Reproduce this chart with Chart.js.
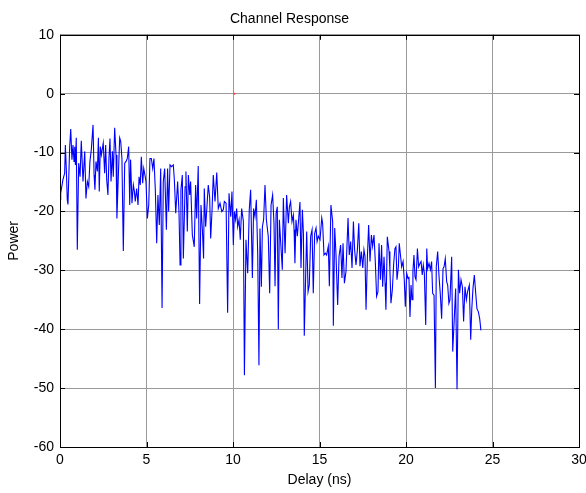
<!DOCTYPE html>
<html>
<head>
<meta charset="utf-8">
<script src="https://cdn.jsdelivr.net/npm/chart.js@4/dist/chart.umd.min.js"></script>
<style>
    html, body { margin: 0; padding: 0; background: #fff; }
    #chart { display: block; }
</style>
</head>
<body>
<canvas id="chart" width="586" height="493"></canvas>
<script>
// delay (ns) and channel power (dB)
const delays = [
    0, 0.04, 0.17, 0.27, 0.31, 0.37, 0.42, 0.46, 0.56, 0.62, 0.69, 0.75, 0.81, 0.85, 0.89, 0.94,
    1.00, 1.08, 1.16, 1.23, 1.33, 1.43, 1.50, 1.58, 1.66, 1.73, 1.81, 1.91, 1.97,
    2.02, 2.08, 2.16, 2.22, 2.27, 2.33, 2.39, 2.45, 2.50, 2.58, 2.64, 2.70, 2.77, 2.83, 2.89, 2.95,
    3.03, 3.08, 3.16, 3.24, 3.29, 3.37, 3.45, 3.51, 3.58, 3.66, 3.74, 3.82, 3.89, 3.97,
    4.03, 4.08, 4.16, 4.24, 4.30, 4.35, 4.43, 4.51, 4.57, 4.64, 4.70, 4.78, 4.84, 4.89, 4.97,
    5.05, 5.13, 5.20, 5.28, 5.36, 5.43, 5.51, 5.59, 5.66, 5.74, 5.82, 5.90, 5.97,
    6.05, 6.15, 6.22, 6.28, 6.36, 6.45, 6.55, 6.61, 6.69, 6.80, 6.88, 6.94, 6.99,
    7.07, 7.13, 7.23, 7.28, 7.36, 7.42, 7.50, 7.55, 7.65, 7.76, 7.84, 7.90, 7.99,
    8.07, 8.15, 8.23, 8.30, 8.34, 8.42, 8.50, 8.57, 8.65, 8.71, 8.79, 8.86, 8.96,
    9.06, 9.15, 9.25, 9.35, 9.44, 9.50, 9.60, 9.69, 9.77, 9.87, 9.94,
    10.02, 10.08, 10.15, 10.21, 10.27, 10.35, 10.42, 10.50, 10.60, 10.66, 10.75, 10.85, 10.94,
    11.02, 11.12, 11.19, 11.27, 11.35, 11.43, 11.50, 11.56, 11.64, 11.70, 11.77, 11.85, 11.93,
    12.04, 12.12, 12.20, 12.29, 12.37, 12.43, 12.49, 12.56, 12.62, 12.68, 12.77, 12.85, 12.91,
    13.01, 13.10, 13.20, 13.26, 13.33, 13.41, 13.49, 13.53, 13.58, 13.64, 13.72, 13.80, 13.87, 13.93,
    14.01, 14.07, 14.12, 14.20, 14.26, 14.34, 14.41, 14.49, 14.57, 14.64, 14.72, 14.80, 14.86, 14.93,
    15.03, 15.13, 15.18, 15.26, 15.34, 15.41, 15.51, 15.57, 15.66, 15.76, 15.80, 15.88, 15.95,
    16.05, 16.13, 16.22, 16.30, 16.36, 16.44, 16.53, 16.65, 16.72, 16.80, 16.88, 16.96,
    17.03, 17.11, 17.19, 17.27, 17.34, 17.42, 17.50, 17.57, 17.63, 17.69, 17.77, 17.84, 17.92,
    18.00, 18.07, 18.15, 18.23, 18.30, 18.38, 18.44, 18.52, 18.59, 18.65, 18.73, 18.79, 18.84, 18.92,
    19.02, 19.07, 19.13, 19.21, 19.29, 19.36, 19.42, 19.48, 19.56, 19.61, 19.69, 19.75, 19.83, 19.90, 19.96,
    20.04, 20.12, 20.17, 20.23, 20.29, 20.35, 20.40, 20.46, 20.52, 20.58, 20.66, 20.73, 20.81, 20.87, 20.94,
    21.00, 21.06, 21.14, 21.20, 21.25, 21.33, 21.41, 21.48, 21.54, 21.62, 21.70, 21.75, 21.83, 21.91, 21.98,
    22.06, 22.14, 22.20, 22.27, 22.35, 22.41, 22.48, 22.54, 22.64, 22.70, 22.79, 22.87, 22.95,
    23.03, 23.10, 23.18, 23.26, 23.33, 23.41, 23.49, 23.56, 23.66, 23.74, 23.80, 23.87, 23.95,
    24.03, 24.10, 24.18, 24.26, 24.33
];
const power = [
    -18, -16.9, -14.6, -13.5, -8.7, -13.2, -18, -18.8, -9, -6, -11.2, -8.7, -11.5, -9, -12.1, -7.5,
    -26.5, -11.8, -14.1, -8, -14.9, -9.8, -17.8, -14.9, -15.8, -11.5, -9.5, -5.3, -13.8,
    -16.3, -11.5, -13.2, -7.5, -16.6, -9, -10.4, -9.3, -8.4, -13.5, -8.7, -14.6, -17.2, -11, -7.6, -14.9,
    -9.8, -14.1, -5.8, -10.4, -21.2, -14.1, -7.5, -8.1, -11, -26.7, -11.8, -11.5, -11, -9,
    -18.9, -11.2, -18.6, -15.5, -16.6, -18.3, -16.1, -18.9, -14.1, -15.5, -10.7, -15.2, -12.7, -13.5, -14.9,
    -21.2, -18.9, -11, -11, -12.7, -11, -16.3, -25.4, -17.2, -22.3, -12.7, -36.4, -14.9,
    -12.7, -23.1, -12.7, -20, -12.1, -12.4, -12.1, -14.6, -20.3, -14.9, -20.3, -29.1, -16.3,
    -13.8, -28, -15.8, -13.2, -23.4, -13.8, -17.2, -14.9, -24, -26, -15.5, -21.2, -12.3,
    -35.7, -18.9, -23.1, -28, -16.1, -22.6, -18.9, -15.5, -17.5, -24.6, -19.7, -13.8, -18.3,
    -13.4, -19.5, -18.6, -20, -19.7, -18.3, -18.6, -37.2, -16.9, -20.9, -16.6,
    -25.7, -20, -21.4, -19.5, -22.6, -21.4, -24.8, -19.5, -21.7, -47.8, -24.8, -30.5, -19.7,
    -16.3, -31.3, -19.5, -20.9, -18, -27.4, -46.1, -22.9, -32.8, -22.6, -21.4, -15.5, -21.4,
    -24.3, -33.9, -18.9, -17.2, -22, -32.7, -20.3, -19.2, -40, -21.4, -25.9, -29.9, -17.7,
    -27.1, -17.2, -22, -19.2, -18.3, -21.7, -20.6, -23.1, -28.8, -21.4, -24.2, -21.1, -18.4, -29.6,
    -19.7, -23.7, -41.1, -31, -23.4, -33.6, -32.5, -24.2, -23.1, -33.9, -23.7, -22.8, -25.1, -24.2,
    -24.8, -21.1, -22, -27.4, -27.1, -27.4, -25.9, -32.7, -18.9, -21.7, -39.4, -22.8, -27.1,
    -35.9, -27.6, -25.7, -31.3, -25.4, -32.2, -30.2, -21.1, -27.4, -25.1, -29.6, -21.7,
    -26.5, -29.1, -26.5, -22, -29.3, -26.8, -29.6, -26.5, -27.6, -36.7, -27.6, -22.3, -28.5,
    -24, -25.9, -24, -28.8, -34.4, -33.6, -25.4, -31.6, -25.7, -32.8, -27.7, -32.2, -36.7, -24.3,
    -26.8, -29.9, -35.6, -33.3, -28.8, -26.3, -26, -31.6, -29.4, -25.4, -27.7, -29.4, -28.5, -31.6, -36.2,
    -30.5, -31.4, -31.1, -37.9, -32.5, -35, -30.2, -27.4, -31.1, -31.6, -26.3, -29.4, -28.8, -28.5, -30.8,
    -29.1, -30.5, -39.3, -26.3, -29.7, -28.8, -29.9, -28.5, -33.9, -34.2, -50, -29.4, -26.8, -31.1, -33.9,
    -38.2, -29.7, -29.4, -28, -31.9, -32.5, -35.6, -35, -27.7, -43.8, -38.2, -33.1, -50.2,
    -29.9, -33.9, -31.6, -32.8, -38.7, -32.8, -35, -33.6, -32.5, -41.8, -36.7, -33.1, -30.8,
    -33.9, -36.5, -37, -38.2, -40.2
];

// stray red marker seen near (10, 0)
const markerPoint = [{x: 10.08, y: 0}];

const xTicks = [0, 5, 10, 15, 20, 25, 30];
const yTicks = [-60, -50, -40, -30, -20, -10, 0, 10];

const font = {family: '"Liberation Sans", Arial, sans-serif', size: 14};

// black box + inward tick marks, matlab style
const framePlugin = {
    id: 'frame',
    afterDraw(chart) {
        const {ctx, chartArea: a, scales} = chart;
        ctx.save();
        ctx.strokeStyle = '#000';
        ctx.lineWidth = 1;
        ctx.strokeRect(Math.round(a.left) + 0.5, Math.round(a.top) + 0.5,
            Math.round(a.right - a.left), Math.round(a.bottom - a.top));
        ctx.beginPath();
        xTicks.forEach(v => {
            const px = Math.round(scales.x.getPixelForValue(v)) + 0.5;
            ctx.moveTo(px, a.bottom); ctx.lineTo(px, a.bottom - 5);
            ctx.moveTo(px, a.top); ctx.lineTo(px, a.top + 5);
        });
        yTicks.forEach(v => {
            const py = Math.round(scales.y.getPixelForValue(v)) + 0.5;
            ctx.moveTo(a.left, py); ctx.lineTo(a.left + 5, py);
            ctx.moveTo(a.right, py); ctx.lineTo(a.right - 5, py);
        });
        ctx.stroke();
        ctx.restore();
    }
};

new Chart(document.getElementById('chart'), {
    type: 'line',
    data: {
        datasets: [{
            label: 'Power',
            data: delays.map((d, i) => ({x: d, y: power[i]})),
            borderColor: '#0000ff',
            borderWidth: 1.1,
            pointRadius: 0,
            tension: 0,
            fill: false
        }, {
            label: 'marker',
            data: markerPoint,
            showLine: false,
            pointRadius: 1,
            pointBorderWidth: 0,
            pointBackgroundColor: '#ff3333'
        }]
    },
    options: {
        responsive: false,
        animation: false,
        devicePixelRatio: 1,
        layout: {padding: {left: 0, right: 7, top: 0, bottom: 0}},
        plugins: {
            legend: {display: false},
            tooltip: {enabled: false},
            title: {
                display: true,
                text: 'Channel Response',
                color: '#000',
                font: Object.assign({}, font, {weight: 'normal'}),
                padding: {top: 11, bottom: 7}
            }
        },
        scales: {
            x: {
                type: 'linear',
                min: 0,
                max: 30,
                afterBuildTicks: s => { s.ticks = xTicks.map(v => ({value: v})); },
                afterFit: s => { s.height = 46; s.paddingLeft = 0; s.paddingRight = 0; },
                ticks: {color: '#000', font: font, padding: 5, maxRotation: 0},
                grid: {color: '#9a9a9a', drawTicks: false},
                border: {display: false},
                title: {display: true, text: 'Delay (ns)', color: '#000', font: font, padding: {top: 0, bottom: 4}}
            },
            y: {
                min: -60,
                max: 10,
                afterBuildTicks: s => { s.ticks = yTicks.map(v => ({value: v})); },
                afterFit: s => { s.width = 60; s.paddingTop = 0; s.paddingBottom = 0; },
                ticks: {color: '#000', font: font, padding: 6},
                grid: {color: '#9a9a9a', drawTicks: false},
                border: {display: false},
                title: {display: true, text: 'Power', color: '#000', font: font, padding: {top: 6, bottom: 0}}
            }
        }
    },
    plugins: [framePlugin]
});
</script>
</body>
</html>
